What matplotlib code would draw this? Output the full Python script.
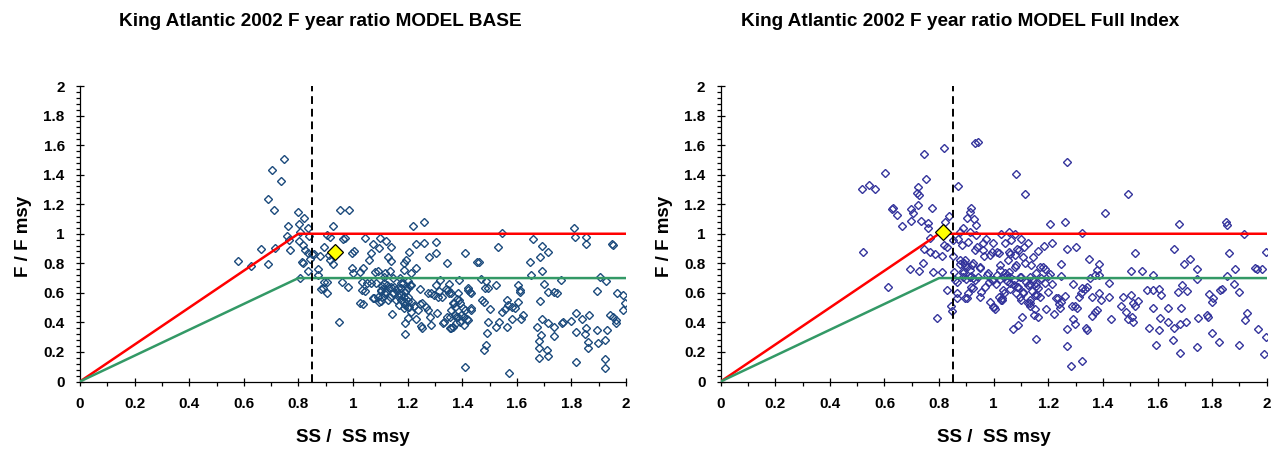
import matplotlib
matplotlib.use("Agg")
import matplotlib.pyplot as plt
import numpy as np
from matplotlib.ticker import MultipleLocator, FuncFormatter

plt.rcParams["font.family"] = ["Liberation Sans", "DejaVu Sans"]
plt.rcParams["font.weight"] = "bold"

# MODEL BASE: spawning stock ratio (SS/SSmsy) and fishing ratio (F/Fmsy)
base_ss = [
    0.578, 0.626, 0.663, 0.689, 0.716, 0.690, 0.702, 0.712, 0.737, 0.747,
    0.761, 0.759, 0.765, 0.770, 0.800, 0.803, 0.822, 0.834, 0.807, 0.801,
    0.840, 0.817, 0.825, 0.834, 0.812, 0.818, 0.835, 0.806, 0.842, 0.850,
    0.858, 0.873, 0.871, 0.883, 0.878, 0.892, 0.917, 0.925, 0.911,
    0.952, 0.984, 0.925, 1.218, 1.260, 1.544, 1.808, 1.813, 1.855, 1.852,
    1.948, 1.954, 0.904, 0.914, 0.894, 0.965, 0.970, 1.045, 1.100, 1.120,
    1.141, 1.072, 1.096, 1.003, 0.998, 1.230, 1.260, 1.304, 1.204, 1.304,
    1.280, 1.128, 1.139, 1.060, 1.067, 1.411, 1.531, 1.659, 1.691, 1.714,
    1.685, 1.647, 1.456, 1.463, 1.344, 1.185, 1.193, 1.232, 1.214, 1.185,
    1.037, 1.025, 0.995, 1.001, 1.080, 1.090, 1.118, 1.134, 1.114, 1.148,
    1.171, 1.175, 1.203, 1.208, 1.202, 1.190, 1.177, 1.169, 1.185, 1.200,
    1.191, 1.203, 1.175, 1.165, 1.158, 1.138, 1.125, 1.107, 1.102, 1.113,
    1.090, 1.075, 1.104, 1.135, 1.145, 1.152, 1.032, 1.050, 1.065, 1.032,
    1.043, 1.025, 1.037, 1.142, 0.961, 0.982, 0.903, 0.903, 0.891, 0.949,
    1.305, 1.319, 1.353, 1.315, 1.342, 1.352, 1.327, 1.297, 1.244, 1.273,
    1.253, 1.245, 1.215, 1.225, 1.239, 1.267, 1.275, 1.281, 1.307, 1.285,
    1.248, 1.254, 1.230, 1.200, 1.191, 1.192, 1.330, 1.344, 1.356, 1.373,
    1.385, 1.356, 1.367, 1.376, 1.392, 1.407, 1.419, 1.407, 1.389, 1.423,
    1.428, 1.383, 1.380, 1.365, 1.373, 1.392, 1.402, 1.409, 1.434, 1.468,
    1.488, 1.484, 1.493, 1.523, 1.473, 1.480, 1.502, 1.495, 1.492, 1.523,
    1.535, 1.547, 1.558, 1.565, 1.569, 1.581, 1.593, 1.605, 1.603, 1.611,
    1.611, 1.565, 1.584, 1.614, 1.624, 1.486, 1.481, 1.410, 1.572, 1.651,
    1.691, 1.700, 1.714, 1.737, 1.749, 1.761, 1.686, 1.673, 1.688, 1.694,
    1.715, 1.737, 1.737, 1.682, 1.682, 1.682, 1.716, 1.711, 1.764, 1.771,
    1.798, 1.816, 1.838, 1.816, 1.816, 1.853, 1.851, 1.859, 1.859, 1.863,
    1.893, 1.899, 1.922, 1.930, 1.922, 1.922, 1.905, 1.927, 1.892, 1.966,
    1.989, 1.997, 1.989, 1.941, 1.954, 1.963, 1.964,
    1.084, 1.115, 1.103, 1.121, 1.133, 1.108, 1.127, 1.097, 1.164, 1.182,
    1.194, 1.176, 1.200, 1.188, 1.170, 1.206, 1.212, 1.078, 1.145, 1.157,
    1.188, 1.212, 1.286, 1.310, 1.347, 1.359, 1.371, 1.390, 1.359, 1.377,
    1.396, 1.334, 1.359, 1.420, 1.432, 1.420, 1.432,
]
base_f = [
    0.816, 0.782, 0.897, 0.793, 0.902, 1.235, 1.433, 1.163, 1.359, 1.508,
    1.055, 0.983, 0.956, 0.890, 1.145, 1.064, 1.107, 1.041, 1.012, 0.953,
    0.985, 0.924, 0.890, 0.868, 0.811, 0.802, 0.748, 0.701, 0.832, 0.861,
    0.865, 0.760, 0.721, 0.624, 0.852, 0.672, 0.820, 0.796, 0.856,
    1.163, 1.163, 1.055, 1.055, 1.080, 1.005, 1.039, 0.980, 0.976, 0.931,
    0.933, 0.924, 0.989, 0.980, 0.908, 0.962, 0.971, 0.974, 0.974, 0.949,
    0.913, 0.933, 0.906, 0.883, 0.870, 0.931, 0.935, 0.947, 0.874, 0.868,
    0.841, 0.845, 0.816, 0.823, 0.872, 0.868, 0.908, 0.965, 0.917, 0.874,
    0.841, 0.809, 0.809, 0.809, 0.800, 0.805, 0.820, 0.769, 0.732, 0.755,
    0.766, 0.739, 0.766, 0.732, 0.744, 0.750, 0.737, 0.748, 0.705, 0.701,
    0.699, 0.665, 0.681, 0.654, 0.631, 0.609, 0.631, 0.597, 0.575, 0.548,
    0.518, 0.503, 0.552, 0.579, 0.620, 0.642, 0.654, 0.647, 0.615, 0.597,
    0.575, 0.568, 0.548, 0.570, 0.597, 0.642, 0.676, 0.665, 0.665, 0.620,
    0.615, 0.534, 0.525, 0.455, 0.676, 0.642, 0.676, 0.597, 0.631, 0.406,
    0.656, 0.685, 0.660, 0.615, 0.624, 0.597, 0.575, 0.586, 0.624, 0.597,
    0.534, 0.525, 0.536, 0.514, 0.482, 0.507, 0.485, 0.435, 0.462, 0.383,
    0.376, 0.361, 0.426, 0.428, 0.394, 0.320, 0.399, 0.435, 0.439, 0.448,
    0.439, 0.361, 0.372, 0.394, 0.406, 0.439, 0.421, 0.383, 0.687, 0.631,
    0.609, 0.597, 0.557, 0.530, 0.507, 0.534, 0.500, 0.485, 0.500, 0.692,
    0.681, 0.631, 0.631, 0.656, 0.552, 0.536, 0.489, 0.406, 0.331, 0.372,
    0.406, 0.473, 0.491, 0.552, 0.521, 0.507, 0.496, 0.541, 0.654, 0.620,
    0.604, 0.372, 0.421, 0.421, 0.451, 0.248, 0.210, 0.101, 0.059, 0.721,
    0.750, 0.660, 0.609, 0.604, 0.597, 0.687, 0.545, 0.372, 0.316, 0.421,
    0.394, 0.367, 0.311, 0.275, 0.225, 0.162, 0.174, 0.214, 0.394, 0.403,
    0.412, 0.462, 0.421, 0.338, 0.131, 0.365, 0.322, 0.264, 0.225, 0.448,
    0.349, 0.259, 0.282, 0.349, 0.151, 0.090, 0.705, 0.683, 0.613, 0.602,
    0.586, 0.530, 0.485, 0.448, 0.435, 0.417, 0.394,
    0.668, 0.664, 0.619, 0.607, 0.630, 0.574, 0.551, 0.540, 0.634, 0.664,
    0.619, 0.585, 0.574, 0.540, 0.517, 0.506, 0.652, 0.563, 0.596, 0.551,
    0.495, 0.472, 0.596, 0.574, 0.619, 0.596, 0.529, 0.551, 0.484, 0.439,
    0.450, 0.405, 0.360, 0.416, 0.484, 0.619, 0.596,
]

# MODEL Full Index
full_ss = [
    0.516, 0.545, 0.565, 0.602, 0.521, 0.612, 0.630, 0.626, 0.646, 0.663,
    0.745, 0.753, 0.819, 0.722, 0.719, 0.725, 0.723, 0.696, 0.706, 0.697,
    0.735, 0.758, 0.759, 0.775, 0.838, 0.822, 0.868, 0.745, 0.767, 0.785,
    0.812, 0.779, 0.812, 0.695, 0.727, 0.740, 0.828, 0.792, 0.844, 0.847,
    0.864, 0.819, 0.828, 0.852, 0.871, 0.767, 0.852, 0.856, 0.858, 0.866,
    0.885, 0.878, 0.889, 0.901, 0.929, 0.935, 0.913, 0.935, 0.906,
    0.932, 0.877, 0.893, 0.901, 0.889, 0.916, 0.897, 0.922, 0.864, 0.901,
    0.917, 0.933, 0.941,
    1.269, 1.083, 1.114, 1.493, 1.407, 1.205, 1.260, 1.325, 1.680, 1.850,
    1.853, 1.916, 1.998, 1.028, 1.056, 1.077, 0.971, 0.961, 0.998, 1.040,
    1.065, 1.100, 1.126, 1.093, 1.110, 1.163, 1.185, 1.215, 1.269, 1.301,
    0.963, 0.994, 1.019, 1.056, 1.077, 1.144, 0.896, 0.924, 0.949, 0.979,
    1.022, 1.053, 1.083, 1.114, 1.138, 1.169, 1.187, 1.154, 1.132, 1.200,
    1.248, 1.248, 1.350, 1.386, 1.377, 1.371, 1.352, 1.386,
    1.504, 1.545, 1.584, 1.516, 1.661, 1.719, 1.697, 1.746, 1.746, 1.688,
    1.676, 1.707, 1.862, 1.853, 1.885, 1.880, 1.898, 1.957, 1.963, 1.982,
    1.927, 1.921, 1.969, 1.998, 1.991, 1.900, 1.826, 1.801, 1.798, 1.804,
    1.790, 1.829, 1.835, 1.782, 1.786, 1.749, 1.746, 1.682, 1.658, 1.661,
    1.684, 1.703, 1.639, 1.640, 1.686, 1.609, 1.605, 1.594, 1.568, 1.584,
    1.562, 1.584, 1.605, 1.612, 1.422, 1.421, 1.474, 1.502, 1.511, 1.529,
    1.519, 1.468, 1.486, 1.493, 1.511, 1.507, 1.428, 1.394, 1.386, 1.360,
    1.377, 1.371, 1.359, 1.342, 1.333, 1.321, 1.325, 1.312, 1.291, 1.297,
    1.305, 1.285, 1.291, 1.297, 1.337, 1.340, 1.267, 1.269, 1.282, 1.324,
    1.248, 1.242, 1.236, 1.227, 1.263, 1.239, 1.221, 1.193, 1.199, 1.215,
    1.169, 1.156, 1.154, 1.163, 1.142, 1.150, 1.132, 1.134, 1.126, 1.101,
    1.150, 1.147, 1.163, 1.104, 1.089, 1.071, 1.154, 1.109, 1.097, 1.083,
    1.088, 1.073, 1.061, 1.037, 1.031, 1.018, 1.027, 1.000, 1.004, 0.988,
    1.049, 1.037, 1.012, 1.024, 1.059, 1.073, 1.055, 1.043, 0.983, 0.967,
    0.955, 0.949, 0.924, 0.906, 0.896, 0.943, 0.931, 0.912, 0.888, 0.992,
    1.007, 1.101, 1.117, 1.132, 1.175, 1.187, 1.208, 1.181, 0.916, 0.912,
    0.877, 0.895, 0.913, 0.889, 0.925, 0.950, 0.974, 0.999, 1.023, 1.048,
    1.060, 1.035, 1.078, 1.096, 1.084, 1.109, 1.127, 1.145, 1.029, 0.999,
    1.133, 1.157, 0.962, 0.986, 1.011, 0.937, 1.060, 1.084, 1.109,
]
full_f = [
    1.303, 1.327, 1.303, 1.409, 0.874, 0.642, 1.176, 1.165, 1.129, 1.055,
    1.542, 1.368, 1.582, 1.314, 1.278, 1.260, 1.192, 1.165, 1.143, 1.089,
    1.089, 1.071, 1.039, 1.172, 1.122, 1.082, 1.325, 0.897, 0.874, 0.863,
    0.847, 0.739, 0.739, 0.764, 0.750, 0.800, 0.618, 0.428, 0.512, 0.478,
    0.568, 0.922, 0.908, 0.958, 0.962, 0.969, 0.850, 0.744, 0.687, 0.676,
    0.922, 1.014, 1.037, 1.104, 1.098, 1.062, 1.014, 0.989, 0.942,
    0.890, 0.793, 0.805, 0.778, 0.748, 0.714, 0.694, 0.787, 0.597, 0.563,
    0.642, 1.616, 1.623,
    1.483, 1.402, 1.269, 1.269, 1.138, 1.064, 1.077, 1.007, 1.064, 1.082,
    1.059, 0.998, 0.874, 0.998, 1.014, 0.998, 0.962, 0.940, 0.935, 0.940,
    0.958, 0.962, 0.940, 0.890, 0.913, 0.886, 0.920, 0.940, 0.897, 0.908,
    0.850, 0.879, 0.868, 0.874, 0.856, 0.845, 0.823, 0.800, 0.766, 0.737,
    0.789, 0.823, 0.789, 0.800, 0.789, 0.778, 0.760, 0.737, 0.710, 0.714,
    0.793, 0.714, 0.829, 0.793, 0.755, 0.721, 0.699, 0.721,
    0.750, 0.750, 0.721, 0.868, 0.897, 0.827, 0.793, 0.760, 0.692, 0.654,
    0.604, 0.613, 0.868, 0.717, 0.760, 0.660, 0.604, 0.766, 0.760, 0.760,
    0.462, 0.417, 0.356, 0.298, 0.183, 0.248, 0.266, 0.331, 0.541, 0.563,
    0.590, 0.620, 0.624, 0.451, 0.439, 0.428, 0.232, 0.192, 0.282, 0.361,
    0.388, 0.406, 0.496, 0.406, 0.496, 0.428, 0.349, 0.248, 0.365, 0.496,
    0.620, 0.620, 0.627, 0.586, 0.665, 0.570, 0.575, 0.586, 0.534, 0.548,
    0.512, 0.512, 0.473, 0.421, 0.406, 0.435, 0.421, 0.552, 0.602, 0.570,
    0.485, 0.469, 0.444, 0.642, 0.627, 0.597, 0.631, 0.575, 0.658, 0.512,
    0.496, 0.512, 0.421, 0.388, 0.365, 0.349, 0.356, 0.243, 0.108, 0.140,
    0.541, 0.496, 0.563, 0.568, 0.579, 0.525, 0.455, 0.489, 0.604, 0.658,
    0.575, 0.665, 0.647, 0.631, 0.613, 0.586, 0.530, 0.514, 0.534, 0.552,
    0.489, 0.451, 0.435, 0.435, 0.383, 0.354, 0.288, 0.597, 0.570, 0.597,
    0.638, 0.654, 0.624, 0.597, 0.563, 0.575, 0.552, 0.507, 0.489, 0.541,
    0.681, 0.710, 0.721, 0.692, 0.710, 0.687, 0.744, 0.737, 0.676, 0.642,
    0.609, 0.575, 0.631, 0.597, 0.563, 0.710, 0.687, 0.705, 0.710, 0.687,
    0.660, 0.705, 0.676, 0.660, 0.699, 0.669, 0.728, 0.778, 1.172, 1.149,
    0.821, 0.788, 0.754, 0.731, 0.698, 0.776, 0.720, 0.686, 0.754, 0.720,
    0.664, 0.619, 0.776, 0.709, 0.641, 0.607, 0.652, 0.686, 0.551, 0.506,
    0.551, 0.585, 0.889, 0.855, 0.877, 0.911, 0.866, 0.900, 0.844,
]

# 2002 point for each model
current_base = (0.934, 0.879)
current_full = (0.816, 1.010)

# harvest control rule: F limit and F target, breakpoint at MSST
rule_ss = [0.0, 0.8, 2.0]
limit_f = [0.0, 1.0, 1.0]
target_f = [0.0, 0.7, 0.7]
msst = 0.85

panels = [
    ("King Atlantic 2002 F year ratio MODEL BASE", base_ss, base_f, current_base, "#1b4a7c"),
    ("King Atlantic 2002 F year ratio MODEL Full Index", full_ss, full_f, current_full, "#34349c"),
]

fig = plt.figure(figsize=(12.85, 4.5), dpi=100)

lefts = [80 / 1285, 720.7 / 1285]
for i, (title, ss, f, cur, col) in enumerate(panels):
    ax = fig.add_axes([lefts[i], 68.5 / 450, 546 / 1285, 295.5 / 450])

    ax.plot(ss, f, linestyle="none", marker="D", ms=3.6, mfc="none", mec=col, mew=1.0, zorder=2)
    ax.plot(rule_ss, limit_f, color="#ff0000", lw=1.8, zorder=3)
    ax.plot(rule_ss, target_f, color="#339966", lw=1.8, zorder=3)
    ax.plot([msst, msst], [0, 2], color="black", lw=1.4, dashes=(4, 2.5), zorder=3)
    ax.plot([cur[0]], [cur[1]], marker="D", ms=8, mfc="#ffff00", mec="black", mew=0.9, linestyle="none", zorder=4)

    ax.set_xlim(0, 2)
    ax.set_ylim(0, 2)
    ax.xaxis.set_major_locator(MultipleLocator(0.2))
    ax.xaxis.set_minor_locator(MultipleLocator(0.1))
    ax.yaxis.set_major_locator(MultipleLocator(0.2))
    ax.yaxis.set_minor_locator(MultipleLocator(0.04))
    fmt = FuncFormatter(lambda v, pos: f"{v:.1f}".rstrip("0").rstrip("."))
    ax.xaxis.set_major_formatter(fmt)
    ax.yaxis.set_major_formatter(fmt)
    ax.tick_params(which="major", direction="inout", length=6, width=0.9, labelsize=11)
    ax.tick_params(which="minor", direction="out", length=3, width=0.9)
    ax.tick_params(axis="x", which="major", pad=8)
    ax.tick_params(axis="y", which="major", pad=8)
    for lab in ax.get_xticklabels() + ax.get_yticklabels():
        lab.set_fontweight("bold")

    for sp in ["top", "right"]:
        ax.spines[sp].set_visible(False)
    for sp in ["left", "bottom"]:
        ax.spines[sp].set_linewidth(0.9)

    ax.set_xlabel("SS /  SS msy", fontsize=13.5, fontweight="bold")
    ax.xaxis.set_label_coords(0.5, -0.16)
    ax.set_ylabel("F / F msy", fontsize=13.5, fontweight="bold")
    ax.yaxis.set_label_coords(-0.088, 0.49)

    fig.text((320 + 640 * i) / 1285, 1 - 21 / 450, title, ha="center", va="center",
             fontsize=13.7, fontweight="bold")

fig.savefig("out.png", dpi=100)
